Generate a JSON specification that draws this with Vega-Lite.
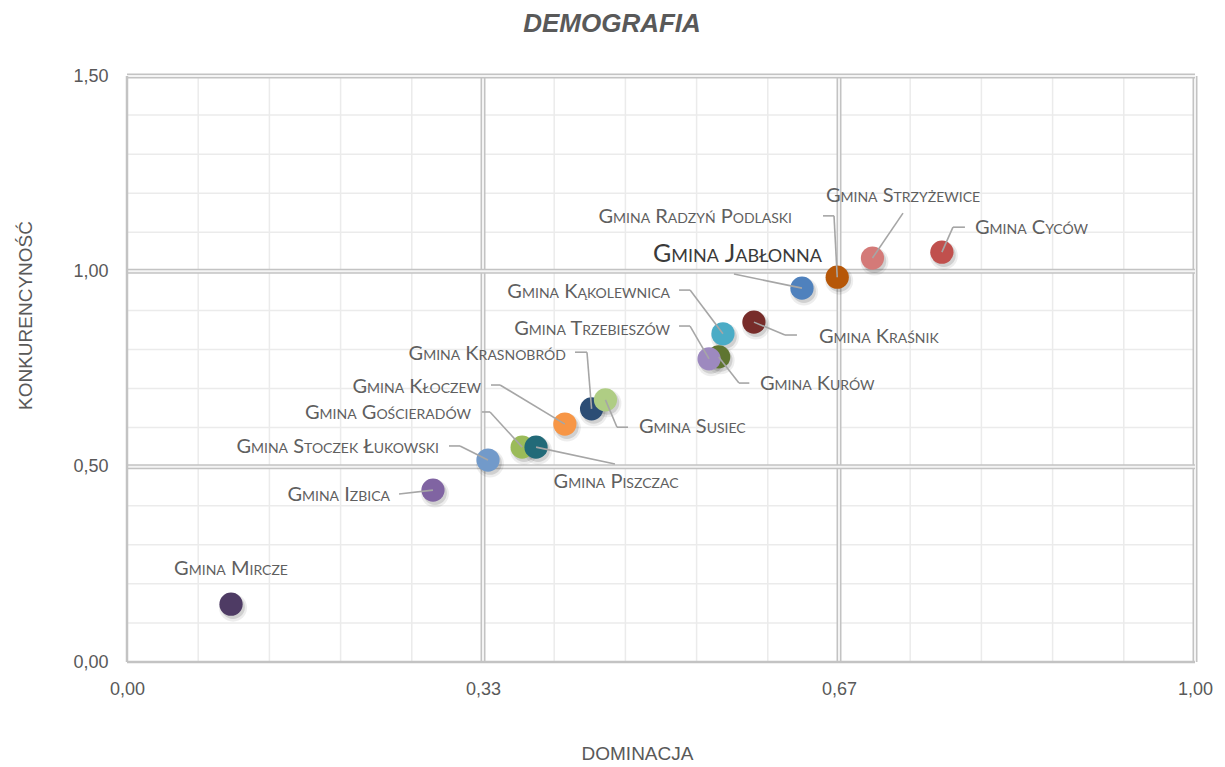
{
  "$schema": "https://vega.github.io/schema/vega-lite/v6.json",
  "width": 1068,
  "height": 586,
  "autosize": {"type": "none"},
  "padding": {"left": 127, "top": 76, "right": 30, "bottom": 105},
  "background": "white",
  "title": {
    "text": "DEMOGRAFIA",
    "font": "Liberation Sans",
    "fontSize": 26,
    "fontStyle": "italic",
    "fontWeight": "bold",
    "color": "#595959",
    "anchor": "middle",
    "frame": "group",
    "dx": -49,
    "baseline": "alphabetic",
    "offset": 9
  },
  "config": {
    "view": {"stroke": null},
    "style": {"smallcaps": {"fontVariant": "small-caps"}}
  },
  "datasets": {
    "pts": [
      {"name": "Gmina Mircze", "x": 0.0974, "y": 0.148, "side": "center", "tx": 0.0974, "ty": 0.2227, "sx": null, "sy": null, "ex": null, "ey": null},
      {"name": "Gmina Izbica", "x": 0.2865, "y": 0.440, "side": "right", "tx": 0.2463, "ty": 0.412, "sx": 0.2547, "sy": 0.430, "ex": 0.2547, "ey": 0.430},
      {"name": "Gmina Stoczek Łukowski", "x": 0.338, "y": 0.517, "side": "right", "tx": 0.2921, "ty": 0.535, "sx": 0.3015, "sy": 0.553, "ex": 0.3118, "ey": 0.553},
      {"name": "Gmina Gościeradów", "x": 0.370, "y": 0.550, "side": "right", "tx": 0.3221, "ty": 0.622, "sx": 0.3324, "sy": 0.640, "ex": 0.3399, "ey": 0.640},
      {"name": "Gmina Piszczac", "x": 0.383, "y": 0.550, "side": "center", "tx": 0.4579, "ty": 0.445, "sx": 0.4569, "sy": 0.507, "ex": 0.4569, "ey": 0.507},
      {"name": "Gmina Kłoczew", "x": 0.410, "y": 0.609, "side": "right", "tx": 0.3315, "ty": 0.689, "sx": 0.3408, "sy": 0.709, "ex": 0.3493, "ey": 0.709},
      {"name": "Gmina Krasnobród", "x": 0.435, "y": 0.648, "side": "right", "tx": 0.4110, "ty": 0.773, "sx": 0.4195, "sy": 0.793, "ex": 0.4307, "ey": 0.793},
      {"name": "Gmina Susiec", "x": 0.448, "y": 0.671, "side": "left", "tx": 0.4794, "ty": 0.586, "sx": 0.4691, "sy": 0.601, "ex": 0.4588, "ey": 0.601},
      {"name": "Gmina Kąkolewnica", "x": 0.558, "y": 0.840, "side": "right", "tx": 0.5084, "ty": 0.932, "sx": 0.5169, "sy": 0.952, "ex": 0.5272, "ey": 0.952},
      {"name": "Gmina Kurów", "x": 0.554, "y": 0.781, "side": "left", "tx": 0.5927, "ty": 0.696, "sx": 0.5827, "sy": 0.714, "ex": 0.5730, "ey": 0.714},
      {"name": "Gmina Trzebieszów", "x": 0.545, "y": 0.776, "side": "right", "tx": 0.5084, "ty": 0.837, "sx": 0.5169, "sy": 0.860, "ex": 0.5272, "ey": 0.860},
      {"name": "Gmina Kraśnik", "x": 0.587, "y": 0.870, "side": "left", "tx": 0.6479, "ty": 0.816, "sx": 0.6273, "sy": 0.837, "ex": 0.6161, "ey": 0.837},
      {"name": "Gmina Jabłonna", "x": 0.632, "y": 0.957, "side": "right", "tx": 0.6507, "ty": 1.024, "sx": 0.5683, "sy": 0.993, "ex": 0.5683, "ey": 0.993},
      {"name": "Gmina Radzyń Podlaski", "x": 0.665, "y": 0.985, "side": "right", "tx": 0.6227, "ty": 1.124, "sx": 0.6517, "sy": 1.142, "ex": 0.6620, "ey": 1.142},
      {"name": "Gmina Strzyżewice", "x": 0.698, "y": 1.034, "side": "center", "tx": 0.7266, "ty": 1.177, "sx": 0.7266, "sy": 1.149, "ex": 0.7266, "ey": 1.149},
      {"name": "Gmina Cyców", "x": 0.763, "y": 1.049, "side": "left", "tx": 0.7940, "ty": 1.095, "sx": 0.7846, "sy": 1.113, "ex": 0.7734, "ey": 1.113}
    ],
    "mx": [{"v": 0.066667}, {"v": 0.133333}, {"v": 0.2}, {"v": 0.266667}, {"v": 0.4}, {"v": 0.466667}, {"v": 0.533333}, {"v": 0.6}, {"v": 0.733333}, {"v": 0.8}, {"v": 0.866667}, {"v": 0.933333}],
    "my": [{"v": 0.1}, {"v": 0.2}, {"v": 0.3}, {"v": 0.4}, {"v": 0.6}, {"v": 0.7}, {"v": 0.8}, {"v": 0.9}, {"v": 1.1}, {"v": 1.2}, {"v": 1.3}, {"v": 1.4}],
    "gx": [{"v": 0.33333}, {"v": 0.66667}, {"v": 1}],
    "gy": [{"v": 0.5}, {"v": 1.0}, {"v": 1.5}],
    "edge": [{"v": 0}]
  },
  "layer": [
    {
      "data": {"name": "pts"},
      "mark": {"type": "point", "opacity": 0},
      "encoding": {
        "x": {
          "field": "x", "type": "quantitative",
          "scale": {"domain": [0, 1], "nice": false, "zero": false},
          "axis": {
            "title": "DOMINACJA",
            "values": [0, 0.333333, 0.666667, 1],
            "labelExpr": "replace(format(datum.value, '.2f'), '.', ',')",
            "grid": false, "domain": false, "ticks": false,
            "labelFont": "Liberation Sans", "labelFontSize": 18, "labelColor": "#595959",
            "labelPadding": 18, "labelOverlap": false, "labelFlush": false,
            "titleFont": "Liberation Sans", "titleFontSize": 19, "titleFontWeight": "normal", "titleColor": "#595959",
            "titleX": 510, "titleY": 97, "titleBaseline": "alphabetic", "titleAlign": "center"
          }
        },
        "y": {
          "field": "y", "type": "quantitative",
          "scale": {"domain": [0, 1.5], "nice": false, "zero": false},
          "axis": {
            "title": "KONKURENCYNOŚĆ",
            "values": [0, 0.5, 1.0, 1.5],
            "labelExpr": "replace(format(datum.value, '.2f'), '.', ',')",
            "grid": false, "domain": false, "ticks": false,
            "labelFont": "Liberation Sans", "labelFontSize": 18, "labelColor": "#595959",
            "labelPadding": 19, "labelOverlap": false, "labelFlush": false,
            "titleFont": "Liberation Sans", "titleFontSize": 19, "titleFontWeight": "normal", "titleColor": "#595959",
            "titleX": -96, "titleY": 239, "titleBaseline": "alphabetic", "titleAlign": "center", "titleAngle": 270
          }
        }
      }
    },
    {
      "data": {"name": "mx"},
      "mark": {"type": "rule", "color": "#ebebeb", "strokeWidth": 1.5},
      "encoding": {"x": {"field": "v", "type": "quantitative", "scale": {"domain": [0, 1], "nice": false, "zero": false}}}
    },
    {
      "data": {"name": "my"},
      "mark": {"type": "rule", "color": "#ebebeb", "strokeWidth": 1.5},
      "encoding": {"y": {"field": "v", "type": "quantitative", "scale": {"domain": [0, 1.5], "nice": false, "zero": false}}}
    },
    {
      "data": {"name": "gx"},
      "mark": {"type": "rule", "color": "#c3c3c3", "strokeWidth": 5},
      "encoding": {"x": {"field": "v", "type": "quantitative", "scale": {"domain": [0, 1], "nice": false, "zero": false}}}
    },
    {
      "data": {"name": "gx"},
      "mark": {"type": "rule", "color": "#f4f4f4", "strokeWidth": 2},
      "encoding": {"x": {"field": "v", "type": "quantitative", "scale": {"domain": [0, 1], "nice": false, "zero": false}}}
    },
    {
      "data": {"name": "gy"},
      "mark": {"type": "rule", "color": "#c3c3c3", "strokeWidth": 5},
      "encoding": {"y": {"field": "v", "type": "quantitative", "scale": {"domain": [0, 1.5], "nice": false, "zero": false}}}
    },
    {
      "data": {"name": "gy"},
      "mark": {"type": "rule", "color": "#f4f4f4", "strokeWidth": 2},
      "encoding": {"y": {"field": "v", "type": "quantitative", "scale": {"domain": [0, 1.5], "nice": false, "zero": false}}}
    },
    {
      "data": {"name": "edge"},
      "mark": {"type": "rule", "color": "#c3c3c3", "strokeWidth": 2.5},
      "encoding": {"x": {"field": "v", "type": "quantitative", "scale": {"domain": [0, 1], "nice": false, "zero": false}}}
    },
    {
      "data": {"name": "edge"},
      "mark": {"type": "rule", "color": "#c3c3c3", "strokeWidth": 2.5},
      "encoding": {"y": {"field": "v", "type": "quantitative", "scale": {"domain": [0, 1.5], "nice": false, "zero": false}}}
    },
    {
      "data": {"name": "pts"},
      "mark": {"type": "circle", "color": "black", "opacity": 0.07, "size": 780, "xOffset": 2, "yOffset": 3.5},
      "encoding": {
        "x": {"field": "x", "type": "quantitative", "scale": {"domain": [0, 1], "nice": false, "zero": false}},
        "y": {"field": "y", "type": "quantitative", "scale": {"domain": [0, 1.5], "nice": false, "zero": false}}
      }
    },
    {
      "data": {"name": "pts"},
      "mark": {"type": "circle", "color": "black", "opacity": 0.12, "size": 560, "xOffset": 2, "yOffset": 3},
      "encoding": {
        "x": {"field": "x", "type": "quantitative", "scale": {"domain": [0, 1], "nice": false, "zero": false}},
        "y": {"field": "y", "type": "quantitative", "scale": {"domain": [0, 1.5], "nice": false, "zero": false}}
      }
    },
    {
      "data": {"name": "pts"},
      "mark": {"type": "circle", "opacity": 1, "size": 540},
      "encoding": {
        "x": {"field": "x", "type": "quantitative", "scale": {"domain": [0, 1], "nice": false, "zero": false}},
        "y": {"field": "y", "type": "quantitative", "scale": {"domain": [0, 1.5], "nice": false, "zero": false}},
        "color": {
          "field": "name", "type": "nominal", "legend": null,
          "scale": {
            "domain": ["Gmina Mircze", "Gmina Izbica", "Gmina Stoczek Łukowski", "Gmina Gościeradów", "Gmina Piszczac", "Gmina Kłoczew", "Gmina Krasnobród", "Gmina Susiec", "Gmina Kąkolewnica", "Gmina Kurów", "Gmina Trzebieszów", "Gmina Kraśnik", "Gmina Jabłonna", "Gmina Radzyń Podlaski", "Gmina Strzyżewice", "Gmina Cyców"],
            "range": ["#4e3b64", "#8064a2", "#729aca", "#9bbb59", "#226a78", "#f79646", "#2c4d75", "#afcd84", "#4bacc6", "#5f7530", "#9d89bf", "#772c2a", "#4f81bd", "#b65708", "#d47a78", "#c0504d"]
          }
        }
      }
    },
    {
      "data": {"name": "pts"},
      "mark": {"type": "rule", "color": "#a6a6a6", "strokeWidth": 1.6},
      "encoding": {
        "x": {"field": "sx", "type": "quantitative", "scale": {"domain": [0, 1], "nice": false, "zero": false}},
        "y": {"field": "sy", "type": "quantitative", "scale": {"domain": [0, 1.5], "nice": false, "zero": false}},
        "x2": {"field": "ex"},
        "y2": {"field": "ey"}
      }
    },
    {
      "data": {"name": "pts"},
      "mark": {"type": "rule", "color": "#a6a6a6", "strokeWidth": 1.6},
      "encoding": {
        "x": {"field": "ex", "type": "quantitative", "scale": {"domain": [0, 1], "nice": false, "zero": false}},
        "y": {"field": "ey", "type": "quantitative", "scale": {"domain": [0, 1.5], "nice": false, "zero": false}},
        "x2": {"field": "x"},
        "y2": {"field": "y"}
      }
    },
    {
      "data": {"name": "pts"},
      "transform": [{"filter": "datum.side == 'left'"}],
      "mark": {"type": "text", "style": "smallcaps", "align": "left", "baseline": "alphabetic", "font": "Lato", "fontWeight": "normal", "fontSize": 20, "color": "#5f5f5f"},
      "encoding": {
        "x": {"field": "tx", "type": "quantitative", "scale": {"domain": [0, 1], "nice": false, "zero": false}},
        "y": {"field": "ty", "type": "quantitative", "scale": {"domain": [0, 1.5], "nice": false, "zero": false}},
        "text": {"field": "name"}
      }
    },
    {
      "data": {"name": "pts"},
      "transform": [{"filter": "datum.side == 'center'"}],
      "mark": {"type": "text", "style": "smallcaps", "align": "center", "baseline": "alphabetic", "font": "Lato", "fontWeight": "normal", "fontSize": 20, "color": "#5f5f5f"},
      "encoding": {
        "x": {"field": "tx", "type": "quantitative", "scale": {"domain": [0, 1], "nice": false, "zero": false}},
        "y": {"field": "ty", "type": "quantitative", "scale": {"domain": [0, 1.5], "nice": false, "zero": false}},
        "text": {"field": "name"}
      }
    },
    {
      "data": {"name": "pts"},
      "transform": [{"filter": "datum.side == 'right' && datum.name != 'Gmina Jabłonna'"}],
      "mark": {"type": "text", "style": "smallcaps", "align": "right", "baseline": "alphabetic", "font": "Lato", "fontWeight": "normal", "fontSize": 20, "color": "#5f5f5f"},
      "encoding": {
        "x": {"field": "tx", "type": "quantitative", "scale": {"domain": [0, 1], "nice": false, "zero": false}},
        "y": {"field": "ty", "type": "quantitative", "scale": {"domain": [0, 1.5], "nice": false, "zero": false}},
        "text": {"field": "name"}
      }
    },
    {
      "data": {"name": "pts"},
      "transform": [{"filter": "datum.name == 'Gmina Jabłonna'"}],
      "mark": {"type": "text", "style": "smallcaps", "align": "right", "baseline": "alphabetic", "font": "Lato", "fontWeight": "normal", "fontSize": 25, "color": "#3a3a3a"},
      "encoding": {
        "x": {"field": "tx", "type": "quantitative", "scale": {"domain": [0, 1], "nice": false, "zero": false}},
        "y": {"field": "ty", "type": "quantitative", "scale": {"domain": [0, 1.5], "nice": false, "zero": false}},
        "text": {"field": "name"}
      }
    }
  ]
}
